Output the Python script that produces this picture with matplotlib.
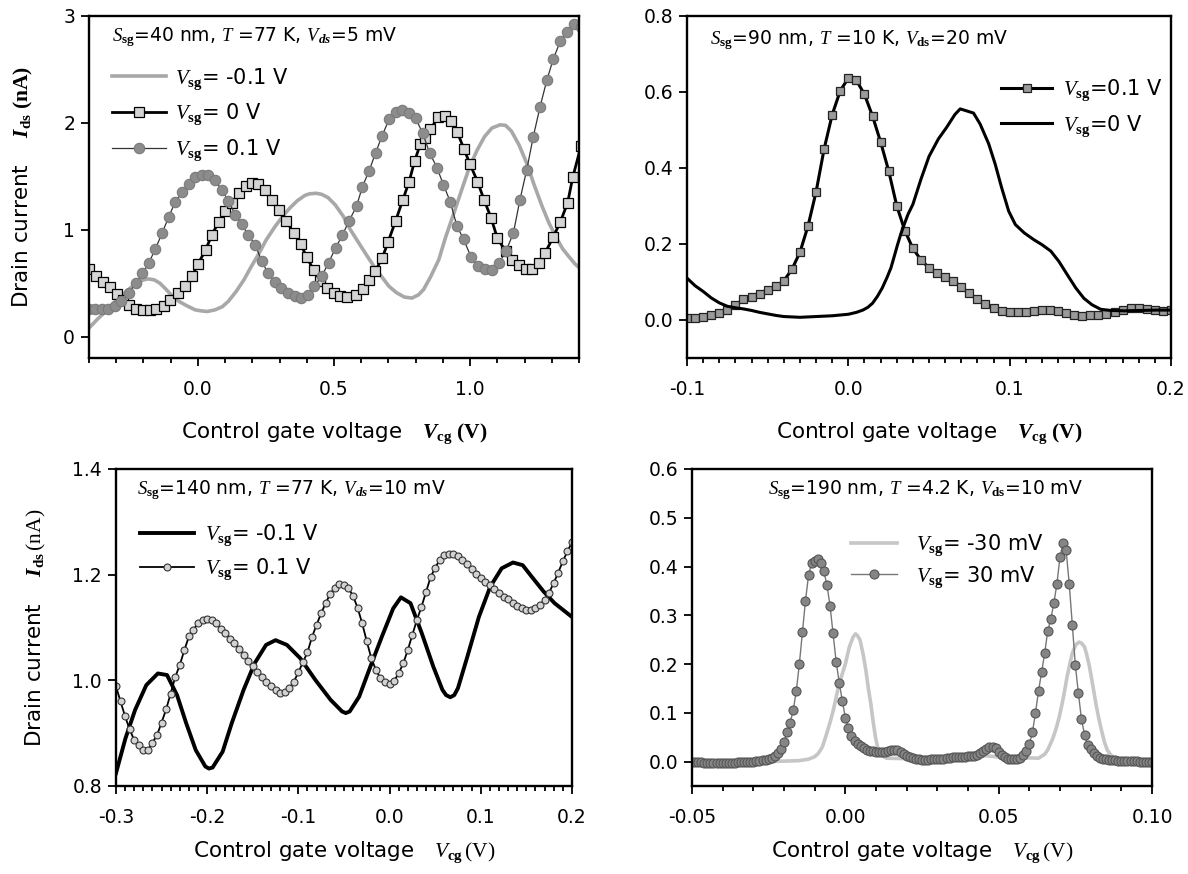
import numpy as np
import matplotlib
matplotlib.use('Agg')
import matplotlib.pyplot as plt
from matplotlib.ticker import MultipleLocator

plt.rcParams['font.family'] = 'DejaVu Sans'
plt.rcParams['mathtext.fontset'] = 'custom'
plt.rcParams['mathtext.rm'] = 'Liberation Serif'
plt.rcParams['mathtext.it'] = 'Liberation Serif:italic'
plt.rcParams['mathtext.bf'] = 'Liberation Serif:bold'
plt.rcParams['mathtext.bfit'] = 'Liberation Serif:italic:bold'
plt.rcParams['axes.unicode_minus'] = False

# ---- S_sg = 40 nm, T = 77 K ----
p1_neg_x = [-0.400, -0.370, -0.337, -0.310, -0.281, -0.250, -0.225, -0.200, -0.183, -0.160,
            -0.140, -0.120, -0.098, -0.070, -0.042, -0.010, 0.014, 0.035, 0.063, 0.090,
            0.112, 0.140, 0.169, 0.195, 0.225, 0.250, 0.281, 0.310, 0.337, 0.365,
            0.393, 0.410, 0.435, 0.455, 0.478, 0.505, 0.534, 0.560, 0.590, 0.620,
            0.646, 0.675, 0.702, 0.730, 0.758, 0.786, 0.810, 0.829, 0.855, 0.885,
            0.910, 0.941, 0.970, 0.997, 1.025, 1.053, 1.080, 1.110, 1.130, 1.152,
            1.180, 1.208, 1.235, 1.264, 1.290, 1.320, 1.340, 1.362, 1.385, 1.407]
p1_neg_y = [0.08, 0.16, 0.24, 0.31, 0.38, 0.45, 0.50, 0.53, 0.54, 0.53,
            0.50, 0.45, 0.39, 0.33, 0.29, 0.25, 0.24, 0.235, 0.25, 0.28,
            0.33, 0.42, 0.53, 0.65, 0.78, 0.90, 1.02, 1.12, 1.20, 1.27,
            1.32, 1.335, 1.34, 1.33, 1.30, 1.23, 1.125, 1.00, 0.88, 0.76,
            0.66, 0.56, 0.47, 0.41, 0.37, 0.36, 0.39, 0.44, 0.56, 0.72,
            0.93, 1.16, 1.38, 1.58, 1.74, 1.87, 1.95, 1.98, 1.975, 1.92,
            1.79, 1.62, 1.42, 1.22, 1.06, 0.91, 0.82, 0.75, 0.68, 0.63]

p1_zero_x = [-0.400, -0.375, -0.350, -0.323, -0.298, -0.276, -0.253, -0.228, -0.200, -0.176,
             -0.152, -0.126, -0.101, -0.073, -0.046, -0.022, 0.000, 0.028, 0.052, 0.076,
             0.101, 0.126, 0.152, 0.177, 0.200, 0.222, 0.247, 0.272, 0.299, 0.325,
             0.352, 0.377, 0.400, 0.426, 0.450, 0.475, 0.500, 0.521, 0.549, 0.580,
             0.607, 0.630, 0.652, 0.677, 0.698, 0.726, 0.753, 0.776, 0.796, 0.817,
             0.833, 0.854, 0.883, 0.907, 0.928, 0.953, 0.978, 1.000, 1.027, 1.051,
             1.077, 1.100, 1.130, 1.154, 1.179, 1.204, 1.228, 1.253, 1.275, 1.305,
             1.331, 1.358, 1.377, 1.407]
p1_zero_y = [0.634, 0.566, 0.510, 0.466, 0.398, 0.34, 0.292, 0.26, 0.25, 0.25,
             0.255, 0.286, 0.339, 0.404, 0.473, 0.566, 0.675, 0.81, 0.954, 1.07,
             1.17, 1.25, 1.343, 1.405, 1.435, 1.425, 1.375, 1.28, 1.18, 1.08,
             0.97, 0.87, 0.74, 0.62, 0.52, 0.45, 0.41, 0.375, 0.366, 0.39,
             0.447, 0.525, 0.616, 0.734, 0.88, 1.08, 1.28, 1.45, 1.64, 1.80,
             1.86, 1.94, 2.05, 2.06, 2.02, 1.91, 1.75, 1.61, 1.45, 1.28,
             1.11, 0.92, 0.80, 0.72, 0.67, 0.63, 0.63, 0.69, 0.78, 0.93,
             1.07, 1.25, 1.49, 1.78]

p1_pos_x = [-0.400, -0.379, -0.354, -0.330, -0.306, -0.281, -0.253, -0.228, -0.204, -0.180,
            -0.156, -0.131, -0.107, -0.083, -0.058, -0.034, -0.010, 0.015, 0.039, 0.063,
            0.088, 0.112, 0.137, 0.161, 0.185, 0.210, 0.234, 0.258, 0.283, 0.307,
            0.331, 0.356, 0.380, 0.404, 0.428, 0.456, 0.480, 0.506, 0.531, 0.555,
            0.583, 0.604, 0.629, 0.653, 0.677, 0.702, 0.727, 0.751, 0.777, 0.800,
            0.826, 0.851, 0.878, 0.902, 0.927, 0.952, 0.976, 1.004, 1.028, 1.053,
            1.081, 1.107, 1.132, 1.159, 1.183, 1.208, 1.232, 1.257, 1.282, 1.306,
            1.331, 1.355, 1.380, 1.407]
p1_pos_y = [0.26, 0.255, 0.255, 0.26, 0.29, 0.33, 0.41, 0.50, 0.59, 0.69,
            0.82, 0.97, 1.12, 1.26, 1.35, 1.43, 1.49, 1.515, 1.515, 1.46,
            1.37, 1.27, 1.14, 1.05, 0.95, 0.86, 0.71, 0.59, 0.51, 0.45,
            0.41, 0.38, 0.36, 0.39, 0.47, 0.57, 0.69, 0.83, 0.95, 1.08,
            1.22, 1.40, 1.55, 1.72, 1.88, 2.03, 2.10, 2.12, 2.09, 2.04,
            1.90, 1.72, 1.58, 1.42, 1.26, 1.03, 0.91, 0.74, 0.66, 0.63,
            0.62, 0.69, 0.80, 0.97, 1.28, 1.56, 1.87, 2.15, 2.40, 2.60,
            2.76, 2.85, 2.92, 2.89]

# ---- S_sg = 90 nm, T = 10 K ----
p2_sq_x = np.linspace(-0.1, 0.2, 61)
p2_sq_y = [0.005, 0.006, 0.008, 0.013, 0.019, 0.027, 0.040, 0.054, 0.060, 0.069,
           0.080, 0.088, 0.103, 0.133, 0.178, 0.247, 0.337, 0.450, 0.540, 0.603,
           0.636, 0.630, 0.593, 0.536, 0.468, 0.392, 0.300, 0.235, 0.188, 0.158,
           0.137, 0.124, 0.113, 0.103, 0.087, 0.070, 0.055, 0.042, 0.032, 0.024,
           0.022, 0.022, 0.022, 0.024, 0.026, 0.026, 0.023, 0.017, 0.013, 0.011,
           0.013, 0.013, 0.016, 0.021, 0.027, 0.031, 0.031, 0.030, 0.026, 0.024,
           0.026]

p2_line_x = [-0.100, -0.095, -0.090, -0.085, -0.080, -0.075, -0.070, -0.065, -0.060, -0.055,
             -0.050, -0.045, -0.040, -0.035, -0.030, -0.025, -0.020, -0.015, -0.010, -0.005,
             0.000, 0.005, 0.009, 0.012, 0.015, 0.018, 0.021, 0.024, 0.0264, 0.0285,
             0.0305, 0.0325, 0.0346, 0.037, 0.040, 0.045, 0.050, 0.0558, 0.061, 0.066,
             0.0693, 0.0724, 0.0776, 0.0817, 0.087, 0.091, 0.095, 0.0994, 0.1035, 0.109,
             0.115, 0.120, 0.1255, 0.1305, 0.1357, 0.141, 0.146, 0.151, 0.1564, 0.1627,
             0.171, 0.181, 0.1917, 0.200]
p2_line_y = [0.110, 0.090, 0.075, 0.058, 0.045, 0.036, 0.032, 0.029, 0.025, 0.020,
             0.016, 0.012, 0.009, 0.008, 0.007, 0.008, 0.009, 0.010, 0.011, 0.013,
             0.015, 0.020, 0.026, 0.033, 0.044, 0.062, 0.084, 0.112, 0.137, 0.168,
             0.198, 0.226, 0.251, 0.278, 0.304, 0.370, 0.430, 0.476, 0.507, 0.540,
             0.555, 0.551, 0.544, 0.515, 0.463, 0.410, 0.348, 0.286, 0.251, 0.229,
             0.211, 0.198, 0.181, 0.154, 0.119, 0.084, 0.057, 0.040, 0.028, 0.025,
             0.024, 0.025, 0.026, 0.026]

# ---- S_sg = 140 nm, T = 77 K ----
p3_neg_x = [-0.300, -0.2896, -0.279, -0.2667, -0.254, -0.244, -0.233, -0.223, -0.2125, -0.202,
            -0.198, -0.194, -0.183, -0.173, -0.160, -0.148, -0.1354, -0.125, -0.1125, -0.098,
            -0.081, -0.0646, -0.052, -0.048, -0.0437, -0.0333, -0.021, -0.0083, 0.004, 0.0125,
            0.023, 0.0354, 0.048, 0.058, 0.062, 0.0667, 0.071, 0.075, 0.0854, 0.098,
            0.1104, 0.123, 0.1354, 0.146, 0.156, 0.169, 0.181, 0.200]
p3_neg_y = [0.824, 0.890, 0.944, 0.991, 1.013, 1.010, 0.972, 0.919, 0.868, 0.837,
            0.833, 0.835, 0.865, 0.919, 0.982, 1.032, 1.067, 1.076, 1.067, 1.042,
            1.000, 0.963, 0.941, 0.938, 0.941, 0.969, 1.026, 1.083, 1.136, 1.157,
            1.146, 1.089, 1.026, 0.982, 0.972, 0.968, 0.972, 0.985, 1.045, 1.120,
            1.177, 1.212, 1.223, 1.218, 1.196, 1.168, 1.146, 1.120]

p3_pos_x = np.linspace(-0.3, 0.2, 101)
p3_pos_y = [0.989, 0.960, 0.932, 0.907, 0.887, 0.878, 0.869, 0.868, 0.882, 0.896,
            0.920, 0.945, 0.975, 1.006, 1.029, 1.057, 1.083, 1.096, 1.108, 1.115,
            1.117, 1.114, 1.108, 1.098, 1.090, 1.079, 1.070, 1.060, 1.048, 1.036,
            1.027, 1.016, 1.006, 0.996, 0.989, 0.982, 0.976, 0.977, 0.985, 0.997,
            1.015, 1.034, 1.053, 1.082, 1.105, 1.127, 1.146, 1.164, 1.175, 1.182,
            1.181, 1.174, 1.160, 1.137, 1.108, 1.074, 1.042, 1.020, 1.004, 0.996,
            0.993, 0.999, 1.013, 1.032, 1.057, 1.086, 1.114, 1.139, 1.167, 1.195,
            1.213, 1.228, 1.237, 1.240, 1.239, 1.235, 1.228, 1.220, 1.211, 1.202,
            1.194, 1.187, 1.180, 1.172, 1.165, 1.158, 1.153, 1.147, 1.141, 1.137,
            1.134, 1.133, 1.136, 1.143, 1.152, 1.166, 1.184, 1.204, 1.225, 1.244,
            1.261]

# ---- S_sg = 190 nm, T = 4.2 K ----
p4_neg_x = [-0.050, -0.040, -0.030, -0.020, -0.015, -0.012, -0.010, -0.0088, -0.0075, -0.0064,
            -0.005, -0.0039, -0.002, 0.000, 0.0013, 0.0025, 0.0033, 0.004, 0.0048, 0.0058,
            0.0067, 0.0075, 0.0083, 0.009, 0.0098, 0.0105, 0.0112, 0.0125, 0.0135, 0.020,
            0.025, 0.028, 0.031, 0.036, 0.042, 0.046, 0.049, 0.053, 0.058, 0.063,
            0.065, 0.066, 0.0675, 0.0686, 0.0697, 0.0707, 0.0715, 0.0723, 0.0732, 0.074,
            0.0752, 0.0762, 0.077, 0.078, 0.0786, 0.0795, 0.0802, 0.081, 0.0817, 0.0826,
            0.0835, 0.0845, 0.0854, 0.0866, 0.0879, 0.092, 0.100]
p4_neg_y = [0.000, 0.000, 0.000, 0.001, 0.002, 0.005, 0.010, 0.017, 0.030, 0.051,
            0.080, 0.106, 0.160, 0.200, 0.235, 0.255, 0.262, 0.258, 0.249, 0.220,
            0.187, 0.150, 0.119, 0.085, 0.051, 0.030, 0.017, 0.010, 0.007, 0.006,
            0.008, 0.010, 0.007, 0.006, 0.008, 0.012, 0.010, 0.006, 0.008, 0.007,
            0.015, 0.024, 0.045, 0.065, 0.090, 0.119, 0.145, 0.174, 0.200, 0.222,
            0.240, 0.245, 0.243, 0.235, 0.222, 0.198, 0.174, 0.145, 0.119, 0.090,
            0.065, 0.040, 0.024, 0.013, 0.007, 0.003, 0.000]

p4_pos_x = np.linspace(-0.05, 0.10, 151)
p4_pos_y = [0.000, 0.000, -0.001, -0.001, -0.002, -0.002, -0.002, -0.002, -0.002, -0.002,
            -0.002, -0.002, -0.002, -0.002, -0.002, -0.001, -0.001, -0.001, 0.000, 0.000,
            0.000, 0.001, 0.002, 0.003, 0.004, 0.006, 0.008, 0.012, 0.018, 0.026,
            0.040, 0.060, 0.080, 0.105, 0.145, 0.200, 0.265, 0.330, 0.382, 0.407,
            0.412, 0.415, 0.407, 0.390, 0.362, 0.320, 0.263, 0.205, 0.162, 0.125,
            0.090, 0.068, 0.052, 0.042, 0.037, 0.031, 0.027, 0.024, 0.022, 0.021,
            0.020, 0.019, 0.019, 0.020, 0.021, 0.023, 0.024, 0.023, 0.020, 0.016,
            0.012, 0.009, 0.007, 0.006, 0.005, 0.004, 0.004, 0.004, 0.005, 0.005,
            0.005, 0.006, 0.006, 0.007, 0.008, 0.009, 0.010, 0.010, 0.010, 0.010,
            0.011, 0.011, 0.012, 0.014, 0.017, 0.022, 0.026, 0.029, 0.030, 0.027,
            0.020, 0.014, 0.009, 0.006, 0.005, 0.005, 0.006, 0.008, 0.014, 0.022,
            0.036, 0.060, 0.100, 0.145, 0.183, 0.222, 0.268, 0.292, 0.325, 0.365,
            0.420, 0.448, 0.433, 0.365, 0.280, 0.198, 0.140, 0.087, 0.055, 0.034,
            0.025, 0.018, 0.012, 0.008, 0.006, 0.005, 0.004, 0.003, 0.003, 0.002,
            0.002, 0.002, 0.001, 0.001, 0.001, 0.001, 0.000, 0.000, 0.000, 0.000,
            0.000]

fig = plt.figure(figsize=(11.88, 8.74), dpi=100)
ax1 = fig.add_axes([0.0749, 0.5904, 0.4125, 0.3916])
ax2 = fig.add_axes([0.5783, 0.5904, 0.4074, 0.3916])
ax3 = fig.add_axes([0.0976, 0.1007, 0.3838, 0.3627])
ax4 = fig.add_axes([0.5825, 0.1007, 0.3872, 0.3627])


def style_axes(ax):
    for s in ax.spines.values():
        s.set_linewidth(1.7)
    ax.tick_params(which='both', direction='out', top=False, right=False,
                   width=1.3, labelsize=13.5)
    ax.tick_params(axis='x', which='major', length=6, pad=10)
    ax.tick_params(axis='x', which='minor', length=3.5)
    ax.tick_params(axis='y', which='major', length=6, pad=4)
    ax.tick_params(axis='y', which='minor', left=False)


leg_kw = dict(frameon=False, fontsize=15, borderpad=0, borderaxespad=0, loc='upper left')
xlab_bold = r'Control gate voltage   $\mathbfit{V}_{\mathbf{cg}}\ \mathbf{(V)}$'
xlab_plain = r'Control gate voltage   $V_{\mathbf{cg}}\,\mathrm{(V)}$'

# top left
ax1.plot(p1_neg_x, p1_neg_y, color='#a8a8a8', lw=2.6, label=r'$V_{\mathbf{sg}}$= -0.1 V')
ax1.plot(p1_zero_x, p1_zero_y, color='black', lw=2.0, marker='s', ms=6.5,
         mfc='#d4d4d4', mec='black', mew=0.9, label=r'$V_{\mathbf{sg}}$= 0 V')
ax1.plot(p1_pos_x, p1_pos_y, color='#333333', lw=0.9, marker='o', ms=7.5,
         mfc='#8c8c8c', mec='#7a7a7a', mew=0.8, label=r'$V_{\mathbf{sg}}$= 0.1 V')
ax1.set_xlim(-0.4, 1.4)
ax1.set_ylim(-0.2, 3)
ax1.set_xticks([0.0, 0.5, 1.0])
ax1.set_xticklabels(['0.0', '0.5', '1.0'])
ax1.xaxis.set_minor_locator(MultipleLocator(0.1))
ax1.set_yticks([0, 1, 2, 3])
ax1.set_yticklabels(['0', '1', '2', '3'])
style_axes(ax1)
ax1.text(0.047, 0.938, r'$S_{\mathbf{sg}}$=40 nm, $T$ =77 K, $V_{\mathbfit{ds}}$=5 mV',
         transform=ax1.transAxes, fontsize=13.5, va='center')
ax1.legend(bbox_to_anchor=(0.047, 0.853), handlelength=2.6, handletextpad=0.4,
           labelspacing=0.5, **leg_kw)
ax1.set_xlabel(xlab_bold, fontsize=15.5)
ax1.set_ylabel(r'Drain current    $\mathbfit{I}_{\mathbf{ds}}\ \mathbf{(nA)}$', fontsize=15.5)
ax1.xaxis.set_label_coords(0.5, -0.183)
ax1.yaxis.set_label_coords(-0.11, 0.5)

# top right
ax2.plot(p2_sq_x, p2_sq_y, color='black', lw=2.2, marker='s', ms=5.5,
         mfc='#9a9a9a', mec='#222222', mew=0.9, label=r'$V_{\mathbf{sg}}$=0.1 V')
ax2.plot(p2_line_x, p2_line_y, color='black', lw=2.2, label=r'$V_{\mathbf{sg}}$=0 V')
ax2.set_xlim(-0.1, 0.2)
ax2.set_ylim(-0.1, 0.8)
ax2.set_xticks([-0.1, 0.0, 0.1, 0.2])
ax2.set_xticklabels(['-0.1', '0.0', '0.1', '0.2'])
ax2.xaxis.set_minor_locator(MultipleLocator(0.01))
ax2.set_yticks([0.0, 0.2, 0.4, 0.6, 0.8])
ax2.set_yticklabels(['0.0', '0.2', '0.4', '0.6', '0.8'])
style_axes(ax2)
ax2.text(0.048, 0.929, r'$S_{\mathbf{sg}}$=90 nm, $T$ =10 K, $V_{\mathbf{ds}}$=20 mV',
         transform=ax2.transAxes, fontsize=13.5, va='center')
ax2.legend(bbox_to_anchor=(0.649, 0.82), handlelength=2.45, handletextpad=0.5,
           labelspacing=0.5, **leg_kw)
ax2.set_xlabel(xlab_bold, fontsize=15.5)
ax2.xaxis.set_label_coords(0.5, -0.183)

# bottom left
ax3.plot(p3_neg_x, p3_neg_y, color='black', lw=2.8, label=r'$V_{\mathbf{sg}}$= -0.1 V')
ax3.plot(p3_pos_x, p3_pos_y, color='black', lw=1.3, marker='o', ms=5,
         mfc='#d2d2d2', mec='#333333', mew=0.8, label=r'$V_{\mathbf{sg}}$= 0.1 V')
ax3.set_xlim(-0.3, 0.2)
ax3.set_ylim(0.8, 1.4)
ax3.set_xticks([-0.3, -0.2, -0.1, 0.0, 0.1, 0.2])
ax3.set_xticklabels(['-0.3', '-0.2', '-0.1', '0.0', '0.1', '0.2'])
ax3.xaxis.set_minor_locator(MultipleLocator(0.01))
ax3.set_yticks([0.8, 1.0, 1.2, 1.4])
ax3.set_yticklabels(['0.8', '1.0', '1.2', '1.4'])
style_axes(ax3)
ax3.text(0.046, 0.934, r'$S_{\mathbf{sg}}$=140 nm, $T$ =77 K, $V_{\mathbfit{ds}}$=10 mV',
         transform=ax3.transAxes, fontsize=13.5, va='center')
ax3.legend(bbox_to_anchor=(0.053, 0.83), handlelength=2.6, handletextpad=0.5,
           labelspacing=0.4, **leg_kw)
ax3.set_xlabel(xlab_plain, fontsize=15.5)
ax3.set_ylabel(r'Drain current    $\mathbfit{I}_{\mathbf{ds}}\,\mathrm{(nA)}$', fontsize=15.5)
ax3.xaxis.set_label_coords(0.5, -0.17)
ax3.yaxis.set_label_coords(-0.15, 0.5)

# bottom right
ax4.plot(p4_neg_x, p4_neg_y, color='#c6c6c6', lw=2.6, label=r'$V_{\mathbf{sg}}$= -30 mV')
ax4.plot(p4_pos_x, p4_pos_y, color='#777777', lw=1.0, marker='o', ms=6.5,
         mfc='#858585', mec='#555555', mew=0.8, label=r'$V_{\mathbf{sg}}$= 30 mV')
ax4.set_xlim(-0.05, 0.10)
ax4.set_ylim(-0.05, 0.6)
ax4.set_xticks([-0.05, 0.0, 0.05, 0.10])
ax4.set_xticklabels(['-0.05', '0.00', '0.05', '0.10'])
ax4.xaxis.set_minor_locator(MultipleLocator(0.01))
ax4.set_yticks([0.0, 0.1, 0.2, 0.3, 0.4, 0.5, 0.6])
ax4.set_yticklabels(['0.0', '0.1', '0.2', '0.3', '0.4', '0.5', '0.6'])
style_axes(ax4)
ax4.text(0.507, 0.934, r'$S_{\mathbf{sg}}$=190 nm, $T$ =4.2 K, $V_{\mathbf{ds}}$=10 mV',
         transform=ax4.transAxes, fontsize=13.5, va='center', ha='center')
ax4.legend(bbox_to_anchor=(0.346, 0.80), handlelength=2.2, handletextpad=0.9,
           labelspacing=0.3, **leg_kw)
ax4.set_xlabel(xlab_plain, fontsize=15.5)
ax4.xaxis.set_label_coords(0.5, -0.17)

fig.savefig('out.png', dpi=100)
